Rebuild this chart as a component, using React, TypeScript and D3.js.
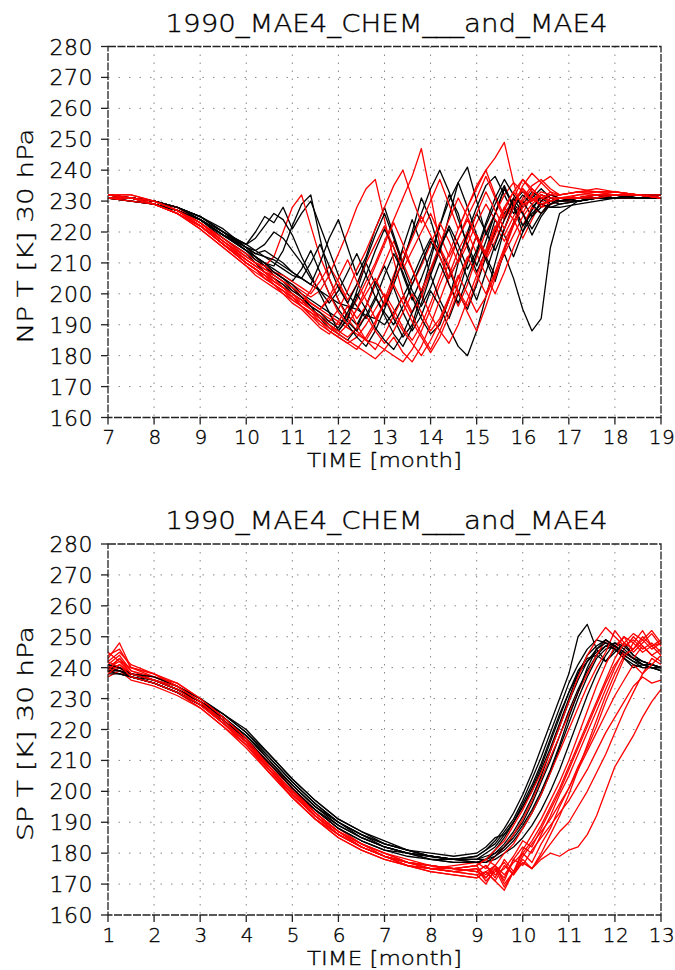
import * as d3 from "d3";

// time axis (months) for the north-pole panel
const npTimes = [
  7, 7.5, 8, 8.5, 9, 9.5, 10,
  10.2, 10.4, 10.6, 10.8, 11, 11.2, 11.4, 11.6, 11.8, 12, 12.2, 12.4, 12.6, 12.8, 13, 13.2, 13.4,
  13.6, 13.8, 14, 14.2, 14.4, 14.6, 14.8, 15, 15.2, 15.4, 15.6, 15.8, 16, 16.2, 16.4, 16.6, 16.8,
  17.2, 17.6, 18, 18.5, 19,
];

// MAE4 runs (black), NP 30 hPa
const npBlack = [
  [231, 231, 230, 228, 225, 220, 215, 213, 212, 210, 208, 206, 205, 203, 201, 199, 197, 196, 195, 193, 192, 190, 194, 199, 205, 212, 218, 214, 208, 200, 195, 203, 212, 220, 226, 230, 233, 231, 229, 228, 228, 229, 230, 231, 231, 231],
  [231, 231, 230, 228, 224, 219, 216, 220, 225, 223, 228, 221, 226, 230, 222, 214, 206, 200, 196, 192, 198, 206, 213, 207, 199, 192, 187, 190, 198, 210, 220, 228, 235, 238, 232, 226, 229, 233, 231, 230, 229, 230, 231, 231, 232, 231],
  [232, 231, 230, 228, 225, 220, 214, 212, 210, 209, 214, 222, 229, 232, 218, 205, 198, 193, 190, 196, 204, 199, 192, 186, 190, 200, 211, 222, 232, 226, 215, 207, 214, 224, 219, 212, 220, 228, 231, 229, 230, 231, 231, 232, 232, 232],
  [231, 230, 229, 227, 224, 218, 213, 210, 207, 205, 203, 200, 198, 195, 193, 190, 188, 192, 199, 206, 214, 221, 215, 206, 198, 205, 213, 222, 230, 236, 228, 219, 212, 206, 213, 205, 195, 188, 192, 215, 226, 230, 231, 231, 231, 231],
  [231, 231, 229, 227, 224, 219, 214, 212, 209, 206, 204, 201, 199, 196, 192, 189, 187, 185, 189, 196, 203, 209, 202, 194, 188, 193, 201, 196, 189, 183, 180, 188, 199, 210, 221, 229, 226, 221, 226, 230, 231, 231, 232, 232, 232, 231],
  [231, 231, 230, 228, 225, 221, 215, 213, 214, 212, 210, 207, 205, 203, 210, 218, 224, 215, 206, 212, 221, 228, 219, 210, 220, 231, 224, 214, 225, 236, 241, 230, 219, 226, 234, 228, 222, 227, 232, 231, 230, 231, 231, 232, 232, 232],
  [232, 231, 230, 228, 225, 220, 216, 218, 222, 226, 224, 219, 212, 206, 200, 194, 188, 192, 201, 210, 203, 196, 205, 215, 224, 216, 206, 198, 192, 200, 210, 219, 211, 204, 214, 223, 230, 225, 228, 231, 230, 230, 231, 232, 231, 231],
  [231, 230, 229, 227, 224, 219, 214, 211, 209, 207, 205, 203, 200, 198, 196, 194, 192, 190, 186, 183, 188, 195, 203, 211, 219, 226, 234, 240, 233, 224, 216, 209, 217, 226, 234, 229, 222, 226, 229, 228, 229, 230, 231, 231, 232, 231],
  [231, 231, 230, 228, 224, 219, 215, 214, 216, 220, 218, 214, 210, 205, 201, 197, 201, 207, 213, 206, 199, 194, 190, 196, 203, 210, 217, 212, 205, 211, 219, 226, 220, 214, 221, 228, 232, 229, 226, 229, 231, 231, 231, 231, 232, 231],
  [232, 231, 230, 228, 225, 220, 215, 212, 210, 208, 206, 204, 208, 214, 207, 200, 195, 191, 188, 193, 199, 193, 187, 183, 189, 197, 206, 214, 222, 216, 208, 214, 223, 231, 237, 232, 228, 231, 234, 231, 230, 231, 232, 232, 231, 231],
  [231, 230, 229, 227, 224, 220, 216, 214, 212, 211, 209, 207, 205, 210, 216, 209, 202, 197, 203, 211, 219, 226, 218, 209, 201, 196, 202, 210, 203, 197, 205, 213, 222, 229, 235, 228, 220, 225, 230, 232, 231, 230, 231, 231, 232, 232],
  [231, 231, 230, 228, 224, 219, 214, 212, 210, 207, 205, 202, 199, 196, 194, 191, 189, 194, 200, 195, 189, 185, 182, 187, 194, 201, 208, 215, 221, 213, 205, 198, 207, 216, 224, 231, 226, 219, 225, 229, 230, 231, 231, 232, 231, 231],
];

// MAE4_CHEM runs (red), NP 30 hPa
const npRed = [
  [232, 232, 230, 227, 223, 217, 211, 209, 207, 205, 203, 201, 199, 197, 195, 193, 191, 189, 187, 185, 184, 182, 180, 178, 182, 188, 195, 203, 210, 218, 224, 218, 211, 217, 224, 230, 234, 231, 228, 229, 230, 230, 231, 231, 231, 231],
  [231, 231, 229, 227, 223, 218, 212, 210, 208, 207, 205, 203, 201, 199, 201, 206, 213, 220, 228, 234, 237, 224, 211, 200, 194, 199, 207, 215, 209, 201, 196, 204, 213, 221, 228, 224, 218, 224, 230, 233, 230, 231, 232, 232, 232, 231],
  [232, 231, 230, 227, 222, 216, 210, 208, 206, 204, 202, 200, 198, 196, 194, 192, 190, 193, 198, 204, 210, 217, 224, 231, 238, 247, 232, 216, 203, 196, 203, 212, 220, 226, 232, 236, 233, 230, 232, 231, 230, 232, 233, 233, 232, 231],
  [231, 230, 229, 226, 222, 216, 210, 208, 205, 203, 200, 198, 196, 193, 190, 188, 186, 184, 186, 190, 195, 200, 195, 189, 185, 190, 197, 205, 213, 221, 228, 234, 240, 244, 249, 236, 226, 232, 236, 238, 235, 234, 233, 233, 232, 231],
  [231, 231, 230, 227, 223, 218, 213, 211, 209, 212, 220, 228, 232, 222, 212, 205, 198, 192, 188, 185, 190, 198, 206, 214, 208, 200, 193, 188, 184, 190, 198, 206, 214, 222, 217, 223, 229, 232, 230, 229, 230, 231, 231, 232, 232, 231],
  [232, 231, 229, 226, 222, 216, 211, 209, 207, 206, 204, 202, 199, 197, 195, 198, 203, 197, 192, 196, 203, 210, 217, 210, 203, 209, 216, 223, 217, 210, 216, 223, 229, 224, 219, 225, 231, 235, 237, 234, 232, 233, 234, 233, 232, 232],
  [231, 231, 229, 226, 221, 215, 209, 207, 205, 203, 201, 199, 196, 194, 192, 190, 187, 185, 183, 181, 179, 182, 186, 181, 178, 183, 190, 198, 206, 214, 220, 213, 206, 200, 207, 215, 222, 228, 226, 229, 231, 231, 231, 232, 232, 231],
  [232, 231, 230, 227, 222, 217, 211, 209, 207, 205, 202, 200, 198, 195, 193, 191, 195, 201, 208, 214, 221, 228, 235, 240, 231, 223, 230, 237, 229, 221, 228, 235, 240, 232, 225, 231, 237, 233, 228, 231, 232, 233, 232, 232, 232, 231],
  [231, 231, 229, 226, 222, 216, 210, 208, 206, 204, 202, 200, 197, 195, 192, 190, 188, 186, 189, 193, 188, 184, 188, 194, 200, 194, 188, 192, 199, 206, 200, 194, 199, 206, 213, 219, 225, 229, 232, 230, 231, 231, 232, 232, 232, 231],
  [232, 232, 230, 228, 223, 217, 212, 210, 209, 207, 206, 204, 202, 200, 204, 209, 204, 198, 203, 210, 216, 222, 215, 208, 214, 220, 226, 219, 212, 218, 225, 231, 238, 231, 224, 229, 234, 230, 233, 232, 231, 232, 232, 233, 232, 232],
  [232, 231, 229, 226, 221, 215, 209, 206, 204, 202, 200, 197, 195, 192, 189, 187, 191, 196, 190, 185, 182, 187, 193, 199, 193, 187, 182, 188, 195, 203, 211, 219, 213, 221, 228, 233, 229, 230, 232, 231, 231, 231, 232, 232, 232, 231],
  [231, 231, 230, 227, 222, 216, 211, 209, 207, 204, 202, 199, 197, 201, 207, 200, 194, 190, 195, 202, 209, 216, 223, 216, 208, 201, 208, 216, 224, 231, 225, 218, 212, 219, 227, 233, 237, 234, 231, 232, 232, 233, 233, 232, 232, 231],
  [231, 231, 229, 226, 222, 216, 210, 208, 206, 203, 201, 199, 196, 194, 191, 188, 186, 184, 182, 186, 191, 197, 203, 197, 191, 186, 181, 186, 193, 201, 194, 188, 196, 205, 214, 222, 228, 231, 229, 230, 231, 231, 231, 232, 232, 231],
  [232, 231, 230, 227, 223, 217, 212, 210, 208, 206, 204, 202, 200, 197, 195, 199, 205, 211, 204, 198, 192, 197, 204, 211, 218, 225, 219, 212, 205, 211, 218, 226, 233, 227, 221, 228, 235, 239, 236, 233, 232, 233, 233, 233, 232, 232],
  [231, 230, 229, 226, 222, 216, 210, 208, 205, 203, 201, 198, 196, 193, 191, 189, 187, 190, 195, 200, 205, 199, 193, 188, 184, 180, 185, 191, 198, 205, 212, 206, 200, 207, 215, 223, 230, 234, 231, 230, 231, 231, 232, 232, 232, 231],
];

// time axis (months) for the south-pole panel
const spTimes = [
  1, 1.25, 1.5, 2, 2.5, 3, 3.5, 4, 4.5, 5, 5.5, 6, 6.5, 7, 7.5, 8, 8.5, 9,
  9.2, 9.4, 9.6, 9.8, 10, 10.2, 10.4, 10.6, 10.8, 11, 11.2, 11.4, 11.6, 11.8, 12, 12.2, 12.4, 12.6, 12.8, 13,
];

const spBlack = [
  [240, 239, 238, 236, 233, 229, 224, 218, 210, 202, 195, 189, 185, 182, 180, 178, 178, 177, 178, 179, 181, 184, 188, 193, 199, 206, 214, 222, 230, 237, 243, 246, 247, 245, 243, 242, 241, 240],
  [239, 238, 237, 235, 232, 228, 223, 217, 209, 201, 194, 189, 185, 182, 180, 179, 178, 179, 181, 184, 188, 193, 199, 206, 214, 222, 230, 238, 250, 254, 246, 242, 246, 243, 240, 241, 240, 239],
  [240, 239, 237, 235, 232, 228, 223, 216, 209, 202, 195, 190, 186, 182, 180, 179, 178, 178, 180, 182, 186, 190, 195, 201, 208, 216, 224, 232, 239, 243, 244, 242, 245, 248, 244, 242, 241, 240],
  [239, 238, 237, 236, 233, 229, 225, 219, 211, 203, 196, 190, 186, 183, 181, 179, 178, 177, 177, 178, 180, 182, 185, 189, 194, 200, 207, 215, 223, 231, 238, 244, 248, 247, 244, 242, 241, 240],
  [240, 240, 238, 236, 234, 230, 225, 220, 212, 204, 197, 191, 187, 183, 181, 179, 178, 178, 179, 180, 182, 186, 190, 196, 203, 210, 218, 226, 233, 239, 244, 247, 248, 246, 243, 241, 240, 240],
  [238, 238, 237, 235, 232, 228, 222, 216, 208, 200, 194, 188, 184, 181, 180, 178, 177, 177, 178, 181, 185, 190, 196, 202, 209, 217, 225, 232, 238, 242, 245, 247, 246, 244, 242, 241, 240, 239],
  [241, 240, 238, 236, 233, 229, 224, 218, 211, 203, 196, 190, 185, 182, 180, 179, 178, 179, 181, 183, 187, 191, 197, 204, 211, 219, 227, 235, 241, 246, 249, 248, 246, 243, 241, 240, 240, 240],
  [239, 239, 237, 235, 232, 228, 224, 218, 210, 202, 195, 190, 186, 183, 181, 179, 178, 178, 178, 180, 183, 187, 192, 198, 205, 213, 221, 229, 236, 242, 246, 248, 247, 245, 243, 241, 240, 240],
  [240, 239, 238, 236, 233, 229, 223, 217, 209, 201, 194, 188, 184, 181, 179, 178, 177, 177, 177, 179, 182, 185, 189, 194, 200, 207, 215, 224, 232, 240, 246, 249, 247, 244, 242, 240, 240, 239],
  [241, 240, 238, 237, 234, 230, 225, 219, 212, 204, 197, 191, 187, 184, 181, 180, 179, 180, 182, 185, 186, 190, 195, 200, 207, 214, 222, 230, 238, 244, 247, 249, 247, 245, 243, 241, 241, 240],
];

const spRed = [
  [243, 248, 240, 237, 234, 229, 223, 216, 207, 199, 192, 186, 182, 179, 176, 175, 174, 175, 173, 176, 171, 178, 182, 180, 186, 192, 199, 205, 212, 219, 226, 233, 240, 246, 250, 247, 244, 246],
  [241, 244, 239, 237, 235, 230, 224, 217, 208, 200, 193, 187, 183, 180, 177, 176, 175, 176, 172, 175, 169, 174, 180, 177, 183, 188, 195, 201, 208, 214, 221, 229, 236, 243, 248, 252, 247, 249],
  [238, 240, 237, 235, 232, 227, 221, 214, 206, 198, 191, 185, 181, 178, 176, 174, 173, 172, 174, 171, 168, 174, 177, 175, 178, 180, 179, 181, 182, 186, 192, 200, 208, 213, 218, 224, 229, 233],
  [240, 242, 238, 236, 233, 229, 223, 217, 209, 201, 194, 188, 183, 180, 178, 176, 175, 174, 176, 172, 178, 174, 181, 186, 191, 197, 203, 210, 218, 226, 234, 241, 247, 250, 245, 248, 251, 247],
  [237, 239, 236, 234, 231, 227, 221, 215, 207, 199, 192, 186, 182, 179, 177, 175, 174, 175, 171, 174, 177, 173, 179, 183, 187, 191, 196, 201, 207, 213, 219, 225, 231, 236, 241, 238, 243, 241],
  [244, 246, 240, 238, 234, 229, 223, 216, 207, 198, 191, 186, 182, 179, 176, 175, 176, 177, 175, 179, 182, 186, 191, 197, 204, 211, 218, 225, 232, 238, 244, 249, 246, 250, 248, 245, 247, 244],
  [239, 241, 238, 236, 233, 228, 222, 215, 207, 199, 192, 187, 183, 179, 177, 175, 174, 173, 170, 175, 172, 178, 176, 181, 185, 189, 193, 197, 202, 207, 213, 219, 224, 229, 234, 237, 235, 236],
  [242, 240, 238, 237, 234, 230, 224, 217, 209, 201, 193, 187, 183, 180, 177, 176, 175, 176, 178, 176, 180, 183, 188, 193, 199, 206, 213, 220, 227, 234, 240, 245, 252, 248, 246, 250, 247, 248],
  [240, 243, 239, 236, 233, 228, 222, 216, 208, 200, 193, 187, 182, 179, 177, 176, 175, 174, 176, 173, 175, 179, 184, 182, 188, 194, 200, 207, 214, 221, 228, 235, 241, 245, 243, 247, 244, 242],
  [245, 242, 240, 238, 235, 230, 224, 217, 208, 199, 192, 186, 182, 179, 177, 175, 174, 173, 174, 176, 173, 177, 180, 184, 189, 195, 201, 208, 215, 222, 229, 236, 243, 248, 251, 249, 246, 248],
  [239, 243, 238, 236, 234, 229, 223, 216, 208, 200, 193, 187, 182, 179, 176, 174, 173, 172, 174, 171, 176, 173, 177, 175, 180, 186, 192, 199, 207, 215, 223, 231, 238, 244, 246, 249, 252, 248],
  [242, 245, 241, 238, 234, 229, 222, 215, 206, 198, 191, 185, 181, 178, 176, 175, 175, 176, 178, 181, 184, 189, 194, 200, 206, 213, 221, 229, 237, 244, 249, 253, 250, 247, 249, 246, 248, 245],
  [238, 241, 237, 235, 232, 228, 222, 216, 208, 200, 192, 186, 182, 179, 177, 176, 175, 174, 172, 176, 170, 174, 178, 175, 179, 183, 187, 190, 195, 200, 206, 212, 219, 226, 232, 238, 241, 244],
];

const npMonths = [7, 8, 9, 10, 11, 12, 13, 14, 15, 16, 17, 18, 19];
const spMonths = [1, 2, 3, 4, 5, 6, 7, 8, 9, 10, 11, 12, 13];
const tempTicks = [160, 170, 180, 190, 200, 210, 220, 230, 240, 250, 260, 270, 280];

const TITLE = "1990_MAE4_CHEM___and_MAE4";
const FONT = "'DejaVu Sans', 'Liberation Sans', sans-serif";

const left = 108;
const right = 661;
const plotH = 371;

function Panel({ top, months, times, black, red, ylabel }) {
  const x = d3.scaleLinear().domain([months[0], months[months.length - 1]]).range([left, right]);
  const y = d3.scaleLinear().domain([160, 280]).range([top + plotH, top]);
  const line = d3
    .line()
    .x((d, i) => x(times[i]))
    .y((d) => y(d));
  const bottom = top + plotH;

  // interleave the two runs so neither colour sits fully on top
  const order = [];
  const n = Math.max(black.length, red.length);
  for (let i = 0; i < n; i++) {
    if (black[i]) order.push({ v: black[i], c: "#000" });
    if (red[i]) order.push({ v: red[i], c: "#ff0000" });
  }

  return (
    <g>
      <g fontFamily={FONT} fontWeight={200} fill="#000" stroke="#000" strokeWidth={0.35}>
        <text
          x={(left + right) / 2 + 2}
          y={top - 15}
          textAnchor="middle"
          fontSize={25}
          textLength={442}
          lengthAdjust="spacingAndGlyphs"
        >
          {TITLE}
        </text>
        {tempTicks.map((t) => (
          <text key={"ly" + t} x={93} y={y(t) + 8} textAnchor="end" fontSize={22} letterSpacing={0.5}>
            {t}
          </text>
        ))}
        {months.map((m) => (
          <text key={"lx" + m} x={x(m) + 1} y={bottom + 26.5} textAnchor="middle" fontSize={20} letterSpacing={0.5}>
            {m}
          </text>
        ))}
        <text
          x={(left + right) / 2}
          y={bottom + 49.5}
          textAnchor="middle"
          fontSize={19.5}
          textLength={155}
          lengthAdjust="spacingAndGlyphs"
        >
          TIME [month]
        </text>
        <text
          transform={`translate(33, ${top + plotH / 2 + 4}) rotate(-90)`}
          textAnchor="middle"
          fontSize={22}
          textLength={215}
          lengthAdjust="spacingAndGlyphs"
        >
          {ylabel}
        </text>
      </g>
      {/* grid */}
      {months.slice(1, -1).map((m) => (
        <line key={"gx" + m} x1={x(m)} x2={x(m)} y1={top} y2={bottom} stroke="#888" strokeWidth={1} strokeDasharray="1.5,6.5" />
      ))}
      {tempTicks.slice(1, -1).map((t) => (
        <line key={"gy" + t} x1={left} x2={right} y1={y(t)} y2={y(t)} stroke="#888" strokeWidth={1} strokeDasharray="1.5,9" />
      ))}
      {/* curves */}
      {order.map((s, i) => (
        <path key={i} d={line(s.v)} fill="none" stroke={s.c} strokeWidth={1.3} strokeLinejoin="round" />
      ))}
      {/* frame */}
      <rect x={left} y={top} width={right - left} height={plotH} fill="none" stroke="#222" strokeWidth={1.3} strokeDasharray="8,1.5" />
      {/* ticks */}
      {tempTicks.map((t) => (
        <line key={"ty" + t} x1={left - 7} x2={left} y1={y(t)} y2={y(t)} stroke="#222" strokeWidth={1.3} />
      ))}
      {months.map((m) => (
        <line key={"tx" + m} x1={x(m)} x2={x(m)} y1={bottom} y2={bottom + 7} stroke="#222" strokeWidth={1.3} />
      ))}
    </g>
  );
}

export default function App() {
  return (
    <svg width={675} height={970} style={{ position: "absolute", left: 0, top: 0, background: "#fff" }}>
      <rect width={675} height={970} fill="#fff" />
      <Panel top={46.5} months={npMonths} times={npTimes} black={npBlack} red={npRed} ylabel="NP T [K] 30 hPa" />
      <Panel top={544} months={spMonths} times={spTimes} black={spBlack} red={spRed} ylabel="SP T [K] 30 hPa" />
    </svg>
  );
}
